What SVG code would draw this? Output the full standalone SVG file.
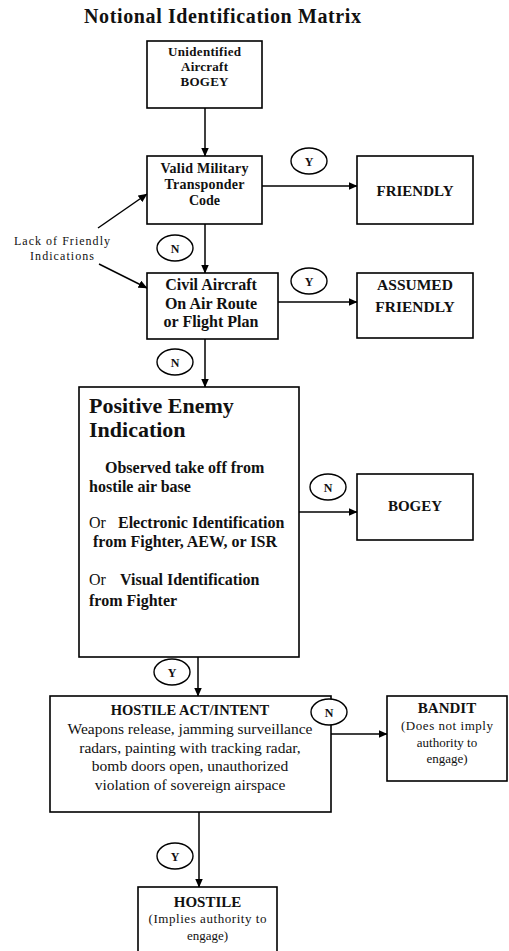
<svg xmlns="http://www.w3.org/2000/svg" width="509" height="951" viewBox="0 0 509 951">
<defs>
<marker id="ah" markerWidth="9" markerHeight="8" refX="8.5" refY="4" orient="auto" markerUnits="userSpaceOnUse">
<path d="M0,0 L9,4 L0,8 Z" fill="#000"/>
</marker>
<style>
.box{fill:#fff;stroke:#000;stroke-width:1.6}
.lbl{fill:#fff;stroke:#000;stroke-width:1.4}
.con{stroke:#000;stroke-width:1.5;fill:none;marker-end:url(#ah)}
text{font-family:"Liberation Serif","Times New Roman",serif;fill:#111}
.b{font-weight:bold}
.c{text-anchor:middle}
.yn{font-weight:bold;font-size:12px;text-anchor:middle}
</style>
</defs>
<rect width="509" height="951" fill="#fff"/>
<text id="title" class="b" x="84" y="23" font-size="20" textLength="277" lengthAdjust="spacing">Notional Identification Matrix</text>

<g id="connectors">
<line class="con" x1="205" y1="108" x2="205" y2="156"/>
<line class="con" x1="262" y1="186" x2="357" y2="186"/>
<line class="con" x1="205" y1="224" x2="205" y2="273"/>
<line class="con" x1="278" y1="302" x2="357" y2="302"/>
<line class="con" x1="205" y1="339" x2="205" y2="387"/>
<line class="con" x1="299" y1="512" x2="357" y2="512"/>
<line class="con" x1="198" y1="657" x2="198" y2="696"/>
<line class="con" x1="331" y1="734" x2="387" y2="734"/>
<line class="con" x1="199" y1="812" x2="199" y2="887"/>
<line class="con" x1="98" y1="228" x2="147" y2="194"/>
<line class="con" x1="99" y1="264" x2="147" y2="288"/>
</g>

<g id="lack-of-friendly">
<text class="c" x="62" y="245" font-size="12" textLength="96" lengthAdjust="spacing">Lack of Friendly</text>
<text class="c" x="62" y="260" font-size="12" textLength="64" lengthAdjust="spacing">Indications</text>
</g>

<g id="unidentified">
<rect class="box" x="147" y="41" width="115" height="67"/>
<text class="b c" x="204.5" y="56" font-size="13" textLength="73" lengthAdjust="spacing">Unidentified</text>
<text class="b c" x="204.5" y="71" font-size="13" textLength="47" lengthAdjust="spacing">Aircraft</text>
<text class="b c" x="204.5" y="86" font-size="13" textLength="48" lengthAdjust="spacing">BOGEY</text>
</g>

<g id="valid-military">
<rect class="box" x="147" y="156" width="115" height="68"/>
<text class="b c" x="204.5" y="173" font-size="14" textLength="88" lengthAdjust="spacing">Valid Military</text>
<text class="b c" x="204.5" y="189" font-size="14" textLength="80" lengthAdjust="spacing">Transponder</text>
<text class="b c" x="204.5" y="205" font-size="14">Code</text>
</g>

<g id="friendly">
<rect class="box" x="357" y="156" width="116" height="68"/>
<text class="b c" x="415" y="196" font-size="15">FRIENDLY</text>
</g>

<g id="civil-aircraft">
<rect class="box" x="147" y="273" width="131" height="66"/>
<text class="b c" x="211" y="290" font-size="16">Civil Aircraft</text>
<text class="b c" x="211" y="309" font-size="16">On Air Route</text>
<text class="b c" x="211" y="327" font-size="16">or Flight Plan</text>
</g>

<g id="assumed-friendly">
<rect class="box" x="357" y="273" width="116" height="65"/>
<text class="b c" x="415" y="290" font-size="15.5">ASSUMED</text>
<text class="b c" x="415" y="312" font-size="15.5">FRIENDLY</text>
</g>

<g id="positive-enemy">
<rect class="box" x="79" y="387" width="220" height="270"/>
<text class="b" x="89" y="413" font-size="22">Positive Enemy</text>
<text class="b" x="89" y="437" font-size="22">Indication</text>
<text class="b" x="105" y="473" font-size="16">Observed take off from</text>
<text class="b" x="89" y="492" font-size="16">hostile air base</text>
<text x="89" y="528" font-size="16">Or</text>
<text class="b" x="118" y="528" font-size="16">Electronic Identification</text>
<text class="b" x="93" y="547" font-size="16">from Fighter, AEW, or ISR</text>
<text x="89" y="585" font-size="16">Or</text>
<text class="b" x="120" y="585" font-size="16">Visual Identification</text>
<text class="b" x="89" y="606" font-size="16">from Fighter</text>
</g>

<g id="bogey">
<rect class="box" x="357" y="474" width="116" height="66"/>
<text class="b c" x="415" y="511" font-size="15">BOGEY</text>
</g>

<g id="hostile-act">
<rect class="box" x="50" y="696" width="281" height="116"/>
<text class="b c" x="190" y="715" font-size="14.5">HOSTILE ACT/INTENT</text>
<text class="c" x="190" y="734" font-size="15.5">Weapons release, jamming surveillance</text>
<text class="c" x="190" y="753" font-size="15.5">radars, painting with tracking radar,</text>
<text class="c" x="190" y="771" font-size="15.5">bomb doors open, unauthorized</text>
<text class="c" x="190" y="790" font-size="15.5">violation of sovereign airspace</text>
</g>

<g id="bandit">
<rect class="box" x="387" y="696" width="120" height="85"/>
<text class="b c" x="447" y="713" font-size="15">BANDIT</text>
<text class="c" x="447" y="730" font-size="13" textLength="92" lengthAdjust="spacing">(Does not imply</text>
<text class="c" x="447" y="747" font-size="13">authority to</text>
<text class="c" x="447" y="763" font-size="13">engage)</text>
</g>

<g id="hostile">
<rect class="box" x="138" y="887" width="139" height="70"/>
<text class="b c" x="207.5" y="907" font-size="15">HOSTILE</text>
<text class="c" x="207.5" y="923" font-size="13" textLength="118" lengthAdjust="spacing">(Implies authority to</text>
<text class="c" x="207.5" y="940" font-size="13">engage)</text>
</g>

<g id="labels">
<g id="lbl-y1"><ellipse class="lbl" cx="309" cy="161" rx="18" ry="13"/><text class="yn" x="309" y="165.5">Y</text></g>
<g id="lbl-n1"><ellipse class="lbl" cx="175" cy="248" rx="18" ry="13"/><text class="yn" x="175" y="252.5">N</text></g>
<g id="lbl-y2"><ellipse class="lbl" cx="309" cy="281" rx="18" ry="13"/><text class="yn" x="309" y="285.5">Y</text></g>
<g id="lbl-n2"><ellipse class="lbl" cx="175" cy="362" rx="18" ry="13"/><text class="yn" x="175" y="366.5">N</text></g>
<g id="lbl-n3"><ellipse class="lbl" cx="328" cy="487" rx="18" ry="13"/><text class="yn" x="328" y="491.5">N</text></g>
<g id="lbl-y3"><ellipse class="lbl" cx="172" cy="672" rx="18" ry="13"/><text class="yn" x="172" y="676.5">Y</text></g>
<g id="lbl-n4"><ellipse class="lbl" cx="329" cy="712" rx="18" ry="13"/><text class="yn" x="329" y="716.5">N</text></g>
<g id="lbl-y4"><ellipse class="lbl" cx="175" cy="856" rx="18" ry="13"/><text class="yn" x="175" y="860.5">Y</text></g>
</g>
</svg>
